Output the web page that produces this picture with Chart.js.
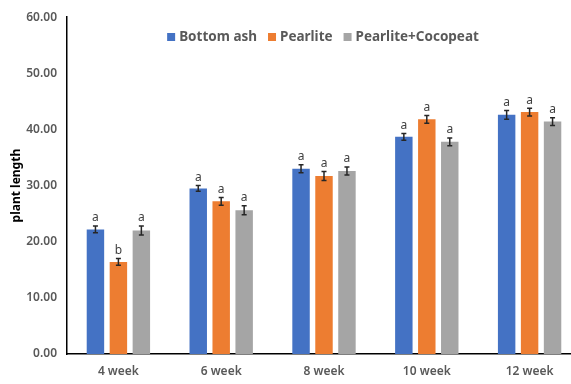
<!DOCTYPE html>
<html>
<head>
<meta charset="utf-8">
<script src="https://cdn.jsdelivr.net/npm/chart.js@4"></script>
<style>
  html, body { margin: 0; padding: 0; background: #fff; overflow: hidden; }
  #wrap { width: 571px; height: 384px; overflow: hidden; }
</style>
</head>
<body>
<div id="wrap">
  <canvas id="chart-container" width="582" height="384"></canvas>
</div>
<script>
const weeks = ["4 week", "6 week", "8 week", "10 week", "12 week"];

const bottomAsh = [22.2, 29.5, 33.0, 38.7, 42.6];
const bottomAshErr = [0.6, 0.5, 0.7, 0.6, 0.8];
const bottomAshSig = ["a", "a", "a", "a", "a"];

const pearlite = [16.4, 27.2, 31.7, 41.8, 43.1];
const pearliteErr = [0.6, 0.7, 0.8, 0.7, 0.7];
const pearliteSig = ["b", "a", "a", "a", "a"];

const cocopeat = [22.0, 25.6, 32.6, 37.8, 41.4];
const cocopeatErr = [0.8, 0.8, 0.7, 0.7, 0.7];
const cocopeatSig = ["a", "a", "a", "a", "a"];

const FONT = "'Noto Sans', 'DejaVu Sans', sans-serif";

// error bars plus the significance letters above them
const errorBarPlugin = {
  id: 'errorBars',
  afterDatasetsDraw(chart) {
    const ctx = chart.ctx;
    const y = chart.scales.y;
    chart.data.datasets.forEach((ds, i) => {
      const meta = chart.getDatasetMeta(i);
      meta.data.forEach((bar, j) => {
        const v = ds.data[j];
        const e = ds.errors[j];
        const top = y.getPixelForValue(v + e);
        const bottom = y.getPixelForValue(v - e);
        const x = bar.x;
        ctx.save();
        ctx.strokeStyle = '#262626';
        ctx.lineWidth = 1.5;
        ctx.beginPath();
        ctx.moveTo(x, top); ctx.lineTo(x, bottom);
        ctx.moveTo(x - 2.5, top); ctx.lineTo(x + 2.5, top);
        ctx.moveTo(x - 2.5, bottom); ctx.lineTo(x + 2.5, bottom);
        ctx.stroke();
        ctx.fillStyle = '#404040';
        ctx.font = '12px ' + FONT;
        ctx.textAlign = 'center';
        ctx.textBaseline = 'bottom';
        ctx.fillText(ds.letters[j], x, top - 2);
        ctx.restore();
      });
    });
  }
};

// legend row drawn inside the plot, near the top
const insideLegend = {
  id: 'insideLegend',
  afterDraw(chart) {
    const ctx = chart.ctx;
    ctx.save();
    ctx.font = 'bold 13.5px ' + FONT;
    ctx.textBaseline = 'middle';
    ctx.textAlign = 'left';
    const box = 8, gap = 4, itemGap = 11, cy = 37;
    const items = chart.data.datasets.map(ds => ({
      text: ds.label, color: ds.backgroundColor, w: ctx.measureText(ds.label).width
    }));
    const total = items.reduce((s, it) => s + box + gap + it.w, 0) + itemGap * (items.length - 1);
    let x = 323 - total / 2;
    items.forEach(it => {
      ctx.fillStyle = it.color;
      ctx.fillRect(x, cy - box / 2, box, box);
      x += box + gap;
      ctx.fillStyle = '#595959';
      ctx.fillText(it.text, x, cy);
      x += it.w + itemGap;
    });
    ctx.restore();
  }
};

new Chart(document.getElementById('chart-container'), {
  type: 'bar',
  data: {
    labels: weeks,
    datasets: [
      { label: 'Bottom ash', data: bottomAsh, errors: bottomAshErr, letters: bottomAshSig, backgroundColor: '#4472C4' },
      { label: 'Pearlite', data: pearlite, errors: pearliteErr, letters: pearliteSig, backgroundColor: '#ED7D31' },
      { label: 'Pearlite+Cocopeat', data: cocopeat, errors: cocopeatErr, letters: cocopeatSig, backgroundColor: '#A5A5A5' }
    ]
  },
  options: {
    responsive: false,
    animation: false,
    categoryPercentage: 0.67,
    barPercentage: 0.76,
    layout: { padding: { top: 12, right: 1, left: 0, bottom: 0 } },
    plugins: {
      tooltip: { enabled: false },
      legend: { display: false }
    },
    scales: {
      x: {
        grid: { display: false, drawTicks: false },
        border: { color: '#000', width: 1.5 },
        ticks: { color: '#595959', padding: 10, font: { family: FONT, size: 12, weight: '600' } },
        afterFit: s => { s.height = 30; }
      },
      y: {
        min: 0,
        max: 60,
        grid: { display: false, drawTicks: false },
        border: { color: '#000', width: 1.5 },
        ticks: {
          stepSize: 10,
          padding: 10,
          color: '#595959',
          font: { family: FONT, size: 12, weight: '600' },
          callback: v => v.toFixed(2)
        },
        title: {
          display: true,
          text: 'plant length',
          color: '#000',
          padding: { top: 9, bottom: 0 },
          font: { family: FONT, size: 12, weight: 'bold' }
        },
        afterFit: s => { s.width = 67; }
      }
    }
  },
  plugins: [errorBarPlugin, insideLegend]
});
</script>
</body>
</html>
